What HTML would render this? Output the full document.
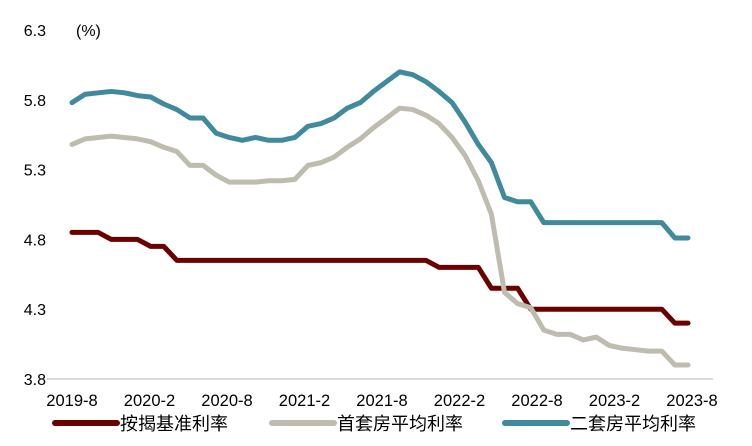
<!DOCTYPE html>
<html><head><meta charset="utf-8"><style>
body{margin:0;background:#fff;width:752px;height:441px;overflow:hidden;font-family:"Liberation Sans","Noto Sans CJK SC",sans-serif}
svg text{font-family:"Liberation Sans","Noto Sans CJK SC",sans-serif;fill:#000}
</style></head><body>
<svg id="chart" width="752" height="441" xmlns="http://www.w3.org/2000/svg">
<g id="axes"></g><g id="series"></g><g id="legend"></g>
</svg>
<script>
const yTicks=[3.8,4.3,4.8,5.3,5.8,6.3];
const xLabels=["2019-8","2020-2","2020-8","2021-2","2021-8","2022-2","2022-8","2023-2","2023-8"];
const baseRate=[4.85,4.85,4.85,4.8,4.8,4.8,4.75,4.75,4.65,4.65,4.65,4.65,4.65,4.65,4.65,4.65,4.65,4.65,4.65,4.65,4.65,4.65,4.65,4.65,4.65,4.65,4.65,4.65,4.6,4.6,4.6,4.6,4.45,4.45,4.45,4.3,4.3,4.3,4.3,4.3,4.3,4.3,4.3,4.3,4.3,4.3,4.2,4.2];
const firstHome=[5.48,5.52,5.53,5.54,5.53,5.52,5.5,5.46,5.43,5.33,5.33,5.26,5.21,5.21,5.21,5.22,5.22,5.23,5.33,5.35,5.39,5.46,5.52,5.6,5.67,5.74,5.73,5.69,5.63,5.53,5.4,5.22,4.98,4.42,4.34,4.31,4.15,4.12,4.12,4.08,4.1,4.04,4.02,4.01,4.0,4.0,3.9,3.9];
const secondHome=[5.78,5.84,5.85,5.86,5.85,5.83,5.82,5.77,5.73,5.67,5.67,5.56,5.53,5.51,5.53,5.51,5.51,5.53,5.61,5.63,5.67,5.74,5.78,5.86,5.93,6.0,5.98,5.93,5.86,5.78,5.64,5.48,5.35,5.1,5.07,5.07,4.92,4.92,4.92,4.92,4.92,4.92,4.92,4.92,4.92,4.92,4.81,4.81];
const NS="http://www.w3.org/2000/svg";
const X0=72,X1=688,Y0=379,Y1=30;
const yScale=v=>Y0-(v-3.8)/(6.3-3.8)*(Y0-Y1);
const xScale=i=>X0+i*(X1-X0)/(baseRate.length-1);
function mk(tag,attrs,parent){const e=document.createElementNS(NS,tag);for(const k in attrs)e.setAttribute(k,attrs[k]);parent.appendChild(e);return e;}
const axes=document.getElementById('axes'),ser=document.getElementById('series'),leg=document.getElementById('legend');
const ax=mk('line',{x1:47,x2:713,y1:Y0,y2:Y0,stroke:'#d9d9d9','stroke-width':2},axes);


yTicks.forEach(v=>{const t=mk('text',{x:46,y:yScale(v)+6,'text-anchor':'end','font-size':16},axes);t.textContent=v.toFixed(1);

});
const u=mk('text',{x:76,y:36,'font-size':16},axes);u.textContent='(%)';


xLabels.forEach((s,i)=>{const t=mk('text',{x:X0+i*(692-X0)/(xLabels.length-1),y:406,'text-anchor':'middle','font-size':16.5},axes);t.textContent=s;

});
const series=[[baseRate,'#6b0000','base-rate-line','按揭基准利率',55],[firstHome,'#bdbcae','first-home-line','首套房平均利率',272],[secondHome,'#3f8a9c','second-home-line','二套房平均利率',505]];
series.forEach(([d,c,n,lab,lx])=>{
 const p=mk('polyline',{points:d.map((v,i)=>xScale(i)+','+yScale(v)).join(' '),fill:'none',stroke:c,'stroke-width':5,'stroke-linejoin':'round','stroke-linecap':'round'},ser);
 
 
 const g=mk('g',{},leg);
 
 
 mk('line',{x1:lx,x2:lx+62,y1:423,y2:423,stroke:c,'stroke-width':6,'stroke-linecap':'round'},g);
 const t=mk('text',{x:lx+65,y:430,'font-size':18},g);t.textContent=lab;
});
</script>
</body></html>
